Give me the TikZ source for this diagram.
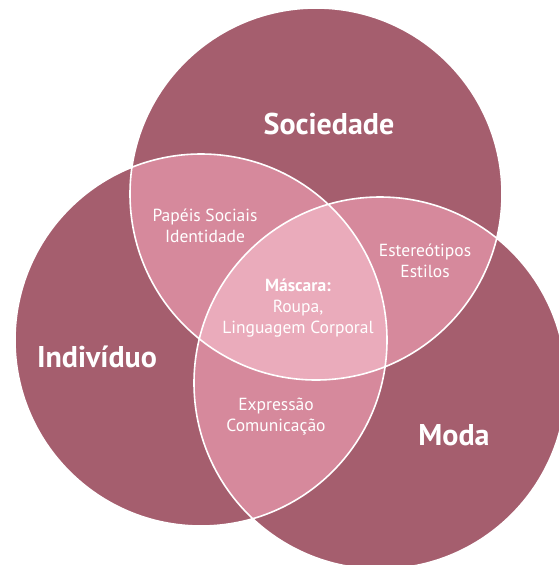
\documentclass[tikz,border=0pt]{standalone}
\usepackage{fontspec}
\setmainfont{PT Sans}
\definecolor{vennDark}{RGB}{165,94,110}
\definecolor{vennMid}{RGB}{214,137,156}
\definecolor{vennLight}{RGB}{234,171,187}
\begin{document}
\begin{tikzpicture}[
                        x=1pt, y=-1pt,
                        title/.style={text=white, font=\bfseries\fontsize{30}{34}\selectfont},
                        note/.style={text=white, align=center, font=\fontsize{17.5}{21}\selectfont}
                    ]
                    \useasboundingbox (0,0) rectangle (558,565);
                    % Centres
                    \coordinate (soc) at (316,194);
                    \coordinate (ind) at (201,340);
                    \coordinate (mod) at (380,383);
                    \def\rad{186}

                    % Circles
                    \fill [vennDark] (soc) circle (\rad);
                    \fill [vennDark] (ind) circle (\rad);
                    \fill [vennDark] (mod) circle (\rad);

                    % Pairwise overlaps
                    \begin{scope}
                        \clip (soc) circle (\rad);
                        \fill [vennMid] (ind) circle (\rad);
                        \fill [vennMid] (mod) circle (\rad);
                    \end{scope}
                    \begin{scope}
                        \clip (ind) circle (\rad);
                        \fill [vennMid] (mod) circle (\rad);
                    \end{scope}

                    % Centre overlap
                    \begin{scope}
                        \clip (soc) circle (\rad);
                        \clip (ind) circle (\rad);
                        \fill [vennLight] (mod) circle (\rad);
                    \end{scope}

                    % Outlines
                    \draw [white, line width=1.6pt] (soc) circle (\rad) (ind) circle (\rad) (mod) circle (\rad);

                    % Labels
                    \node [title] (sociedade) at (329,124) {Sociedade};
                    \node [title] (individuo) at (97,357) {Indivíduo};
                    \node [title] (moda) at (454,435) {Moda};
                    \node [note] (papeis) at (205,226) {Papéis Sociais\\Identidade};
                    \node [note] (estereotipos) at (425,261) {Estereótipos\\Estilos};
                    \node [note] (mascara) at (298,308) {\textbf{Máscara:}\\Roupa,\\Linguagem Corporal};
                    \node [note] (expressao) at (276,417) {Expressão\\Comunicação};
                \end{tikzpicture}
\end{document}
